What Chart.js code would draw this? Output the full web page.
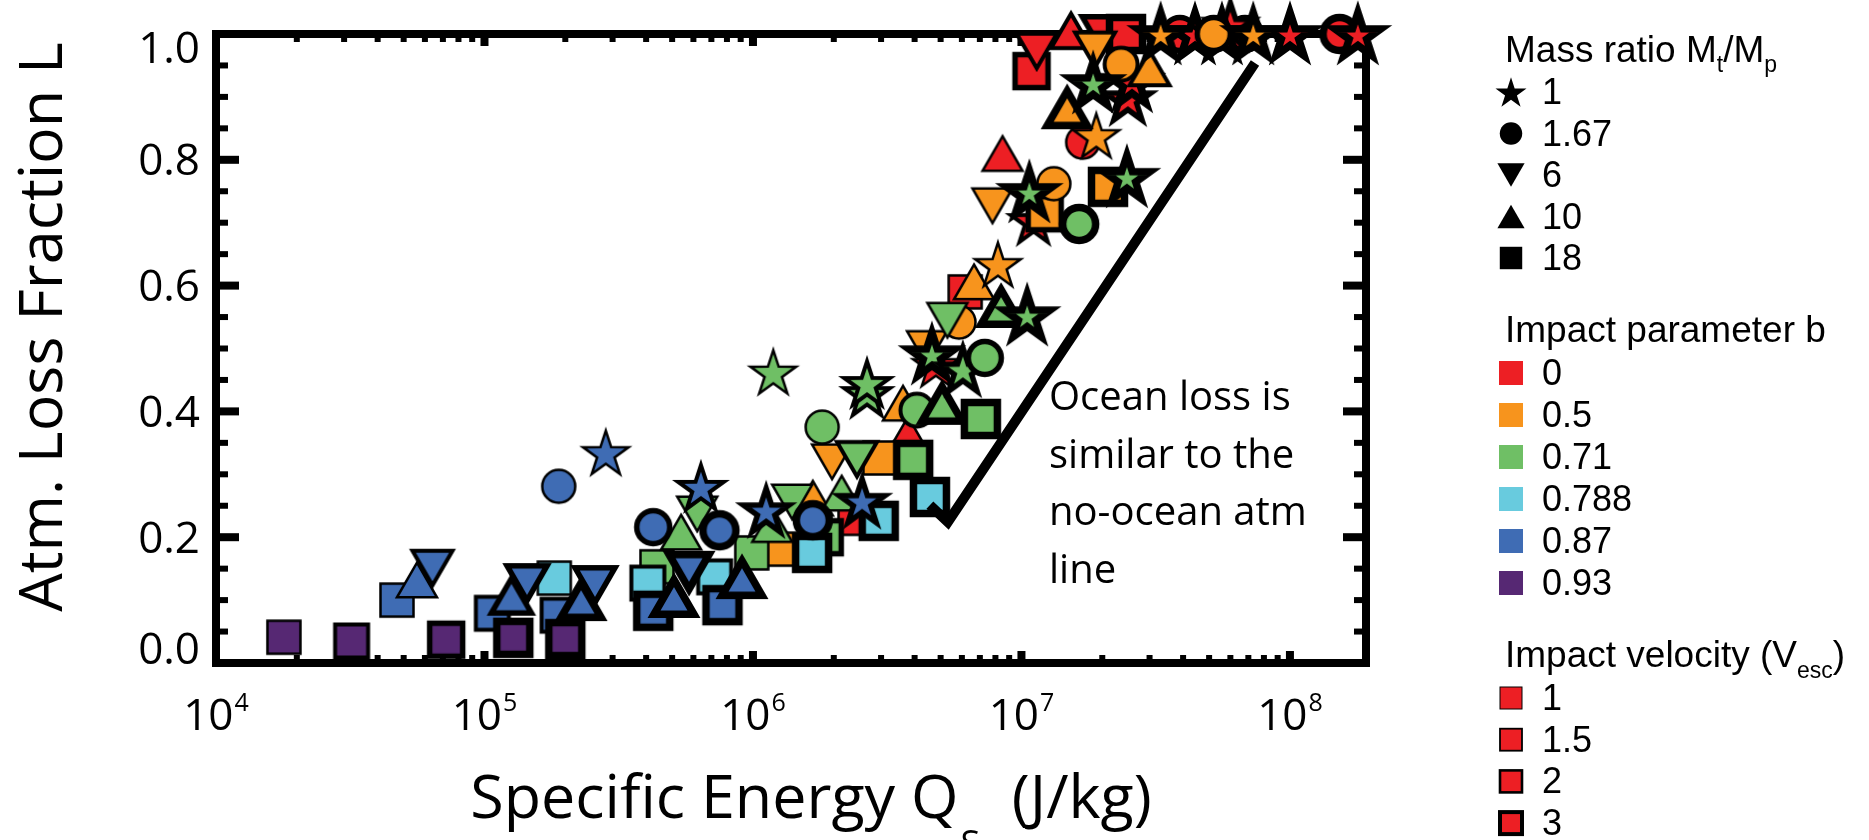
<!DOCTYPE html>
<html>
<head>
<meta charset="utf-8">
<script src="https://cdn.jsdelivr.net/npm/chart.js@4.4.1/dist/chart.umd.min.js"></script>
<style>
  html, body { margin: 0; padding: 0; background: #fff; }
  #wrap { width: 1869px; height: 840px; }
</style>
</head>
<body>
<div id="wrap"><canvas id="chart"></canvas></div>
<script>
// axis ranges and tick labels
const xMin = 1e4, xMax = 1.92e8;
const xTicks = [1e4, 1e5, 1e6, 1e7, 1e8];
const xTickExps = ['4', '5', '6', '7', '8'];
const yTicks = [0, 0.2, 0.4, 0.6, 0.8, 1.0];
const yTickLabels = ['0.0', '0.2', '0.4', '0.6', '0.8', '1.0'];

// legend categories
const massRatios = ['1', '1.67', '6', '10', '18'];
const impactB = ['0', '0.5', '0.71', '0.788', '0.87', '0.93'];
const bColors = ['#ED1F24', '#F7941D', '#6FBF65', '#68CBDE', '#3F6CB4', '#562873'];
const velocities = ['1', '1.5', '2', '3'];

// points: [Q_S (J/kg), loss fraction L, Mt/Mp, impact velocity (Vesc)]
const bZero = [
  [2.4e6, 0.23, 18, 1], [4.8e6, 0.475, 1, 1], [3.78e6, 0.364, 10, 1],
  [6.17e6, 0.590, 18, 1], [8.5e6, 0.81, 10, 1], [1.11e7, 0.704, 1, 1.5],
  [1.69e7, 0.828, 1.67, 1], [2.49e7, 0.898, 1, 2], [2.58e7, 0.924, 1, 3],
  [1.09e7, 0.941, 18, 2], [1.14e7, 0.973, 6, 1.5], [1.53e7, 1.005, 10, 1.5],
  [2.0e7, 1.0, 6, 2], [2.45e7, 1.0, 18, 3], [3.89e7, 1.0, 1.67, 2],
  [6.8e7, 1.0, 1.67, 2], [6.0e7, 1.015, 1, 2], [4.43e7, 1.0, 1, 3],
  [5.58e7, 1.0, 1, 3], [1.0e8, 1.0, 1, 3], [1.53e8, 1.0, 1.67, 3],
  [1.79e8, 1.0, 1, 3]
];
const bHalf = [
  [1.27e6, 0.181, 18, 1], [1.67e6, 0.262, 10, 1], [2.97e6, 0.326, 18, 1],
  [1.97e6, 0.320, 6, 1], [3.62e6, 0.413, 10, 1], [4.45e6, 0.50, 6, 1],
  [5.85e6, 0.542, 1.67, 1], [6.66e6, 0.606, 10, 1], [8.17e6, 0.634, 1, 1],
  [1.22e7, 0.715, 18, 2], [7.8e6, 0.727, 6, 1], [1.32e7, 0.762, 1.67, 1],
  [2.1e7, 0.757, 18, 3], [1.9e7, 0.839, 1, 1], [1.48e7, 0.882, 10, 3],
  [3.0e7, 0.946, 10, 1.5], [2.35e7, 0.952, 1.67, 1.5], [1.88e7, 0.975, 6, 1.5],
  [5.2e7, 1.0, 1.67, 2], [3.3e7, 1.0, 1, 3], [7.3e7, 1.0, 1, 3]
];
const b071 = [
  [4.39e5, 0.153, 18, 1], [5.4e5, 0.208, 10, 1], [6.2e5, 0.237, 6, 1],
  [9.9e5, 0.175, 18, 1], [1.18e6, 0.22, 10, 1], [1.40e6, 0.256, 6, 1],
  [1.85e6, 0.2, 18, 2], [2.14e6, 0.27, 10, 1], [2.44e6, 0.324, 6, 1.5],
  [1.81e6, 0.375, 1.67, 1], [1.19e6, 0.463, 1, 1], [2.66e6, 0.429, 1, 1.5],
  [2.66e6, 0.445, 1, 1.5], [4.08e6, 0.402, 1.67, 1.5], [5.06e6, 0.412, 10, 3],
  [3.95e6, 0.323, 18, 3], [7.06e6, 0.388, 18, 3], [5.3e6, 0.545, 6, 1],
  [4.64e6, 0.491, 1, 3], [6.05e6, 0.467, 1, 2], [7.3e6, 0.485, 1.67, 2],
  [8.4e6, 0.566, 10, 3], [1.05e7, 0.553, 1, 3], [1.64e7, 0.698, 1.67, 3],
  [1.07e7, 0.749, 1, 3], [2.47e7, 0.773, 1, 3], [1.85e7, 0.922, 1, 3]
];
const b0788 = [
  [1.82e5, 0.135, 18, 1], [4.06e5, 0.127, 18, 1.5], [7.2e5, 0.137, 18, 1.5],
  [1.66e6, 0.175, 18, 3], [2.94e6, 0.226, 18, 3], [4.56e6, 0.264, 18, 3]
];
const b087 = [
  [4.72e4, 0.10, 18, 1], [1.07e5, 0.079, 18, 1.5], [1.88e5, 0.076, 18, 1.5],
  [4.25e5, 0.083, 18, 3], [7.7e5, 0.092, 18, 3],
  [6.4e4, 0.151, 6, 1.5], [1.44e5, 0.127, 6, 2], [2.58e5, 0.124, 6, 2], [5.78e5, 0.145, 6, 3],
  [5.6e4, 0.132, 10, 1], [1.26e5, 0.107, 10, 2], [2.29e5, 0.10, 10, 3],
  [5.08e5, 0.105, 10, 3], [9.1e5, 0.135, 10, 3],
  [1.89e5, 0.281, 1.67, 1], [4.25e5, 0.216, 1.67, 2], [7.5e5, 0.211, 1.67, 3], [1.67e6, 0.227, 1.67, 3],
  [2.83e5, 0.335, 1, 1], [6.4e5, 0.280, 1, 1.5], [1.12e6, 0.243, 1, 2], [2.55e6, 0.258, 1, 2]
];
const b093 = [
  [1.79e4, 0.041, 18, 1], [3.2e4, 0.035, 18, 1.5], [7.2e4, 0.037, 18, 2],
  [1.28e5, 0.040, 18, 3], [2.0e5, 0.038, 18, 3]
];

// no-ocean atmosphere line
const lineQ = [4.56e6, 5.32e6, 7.41e7];
const lineL = [0.251, 0.224, 0.954];

const shapeByRatio = { '1': 'star', '1.67': 'circle', '6': 'down', '10': 'up', '18': 'square' };
const lwByVel = { '1': 2.5, '1.5': 4, '2': 5.5, '3': 7.5 };

const AXIS_FONT = '"Open Sans", "DejaVu Sans", sans-serif';
const LEG_FONT = '"Liberation Sans", Arial, sans-serif';

function shapePath(g, shape, k) {
  g.beginPath();
  if (shape === 'square') {
    const s = 33 * k;
    g.rect(-s / 2, -s / 2, s, s);
  } else if (shape === 'circle') {
    g.arc(0, 0, 16.5 * k, 0, Math.PI * 2);
  } else if (shape === 'up' || shape === 'down') {
    const a = 40 * k, h = a * Math.sqrt(3) / 2, d = shape === 'up' ? 1 : -1;
    g.moveTo(0, -d * h / 2);
    g.lineTo(a / 2, d * h / 2);
    g.lineTo(-a / 2, d * h / 2);
    g.closePath();
  } else {
    const R = 24 * k, r = R * 0.382, dy = R * 0.0955;
    for (let i = 0; i < 10; i++) {
      const rad = i % 2 ? r : R;
      const ang = -Math.PI / 2 + i * Math.PI / 5;
      const px = rad * Math.cos(ang), py = rad * Math.sin(ang) + dy;
      if (i === 0) g.moveTo(px, py); else g.lineTo(px, py);
    }
    g.closePath();
  }
}

const cache = {};
function marker(shape, color, lw) {
  const key = shape + color + lw;
  if (cache[key]) return cache[key];
  const c = document.createElement('canvas');
  const size = Math.ceil(2 * (26 + lw * 2 + 4));
  c.width = c.height = size;
  const g = c.getContext('2d');
  g.translate(size / 2, size / 2);
  shapePath(g, shape, 1);
  g.fillStyle = color;
  g.fill();
  g.lineWidth = lw;
  g.lineJoin = 'miter';
  g.strokeStyle = '#000';
  g.stroke();
  cache[key] = c;
  return c;
}

const series = [
  { pts: b093, color: bColors[5], order: 1 },
  { pts: b087, color: bColors[4], order: 2 },
  { pts: b0788, color: bColors[3], order: 3 },
  { pts: b071, color: bColors[2], order: 4 },
  { pts: bHalf, color: bColors[1], order: 5 },
  { pts: bZero, color: bColors[0], order: 6 }
];

const datasets = series.map(s => ({
  type: 'scatter',
  data: s.pts.map(p => ({ x: p[0], y: p[1] })),
  pointStyle: s.pts.map(p => marker(shapeByRatio[p[2]], s.color, lwByVel[p[3]])),
  pointRadius: 20,
  clip: false,
  order: s.order
}));
datasets.push({
  type: 'line',
  data: lineQ.map((q, i) => ({ x: q, y: lineL[i] })),
  borderColor: '#000',
  borderWidth: 10,
  borderCapStyle: 'butt',
  borderJoinStyle: 'miter',
  pointRadius: 0,
  fill: false,
  order: 0
});

function rich(ctx, parts, x, y, family, draw) {
  let cx = x;
  for (const p of parts) {
    ctx.font = p.size + 'px ' + family;
    if (draw) ctx.fillText(p.t, cx, y + (p.dy || 0));
    cx += ctx.measureText(p.t).width + (p.gap || 0);
  }
  return cx - x;
}

const frame = {
  id: 'frame',
  beforeDatasetsDraw(chart) {
    const { ctx, chartArea: a } = chart;
    const x = chart.scales.x, y = chart.scales.y;
    ctx.save();
    ctx.fillStyle = '#000';
    for (let i = 1; i < 20; i++) {
      const py = y.getPixelForValue(i * 0.05);
      const major = i % 4 === 0;
      const len = major ? 23 : 12, th = major ? 8 : 6;
      ctx.fillRect(a.left, py - th / 2, len, th);
      ctx.fillRect(a.right - len, py - th / 2, len, th);
    }
    for (let d = 4; d <= 8; d++) {
      for (let k = 1; k <= 9; k++) {
        const v = k * Math.pow(10, d);
        if (v <= xMin || v >= xMax) continue;
        const px = x.getPixelForValue(v);
        const major = k === 1;
        const len = major ? 12 : 8, th = major ? 8 : 6;
        ctx.fillRect(px - th / 2, a.bottom - len, th, len);
        ctx.fillRect(px - th / 2, a.top, th, len);
      }
    }
    ctx.lineWidth = 8;
    ctx.strokeStyle = '#000';
    ctx.strokeRect(a.left, a.top, a.right - a.left, a.bottom - a.top);
    ctx.restore();
  },
  afterDraw(chart) {
    const { ctx } = chart;
    const x = chart.scales.x, y = chart.scales.y;
    ctx.save();
    ctx.fillStyle = '#000';
    ctx.textBaseline = 'alphabetic';

    // y tick labels
    ctx.font = '44px ' + AXIS_FONT;
    ctx.textAlign = 'right';
    yTicks.forEach((v, i) => {
      let py = y.getPixelForValue(v);
      if (i === 0) py -= 15;
      if (i === yTicks.length - 1) py += 13;
      ctx.fillText(yTickLabels[i], 200, py + 15.5);
    });

    // x tick labels with exponents
    ctx.textAlign = 'left';
    xTicks.forEach((v, i) => {
      const parts = [{ t: '10', size: 44, gap: 1 }, { t: xTickExps[i], size: 25, dy: -19 }];
      const w = rich(ctx, parts, 0, 0, AXIS_FONT, false);
      rich(ctx, parts, x.getPixelForValue(v) - w / 2, 730, AXIS_FONT, true);
    });

    // x title
    const xt = [
      { t: 'Specific Energy Q', size: 61, gap: 2 },
      { t: 'S', size: 36, dy: 38 },
      { t: '  (J/kg)', size: 61 }
    ];
    const xw = rich(ctx, xt, 0, 0, AXIS_FONT, false);
    rich(ctx, xt, 811 - xw / 2, 818, AXIS_FONT, true);

    // y title
    ctx.save();
    ctx.translate(62, 327);
    ctx.rotate(-Math.PI / 2);
    ctx.textAlign = 'center';
    ctx.font = '61px ' + AXIS_FONT;
    ctx.fillText('Atm. Loss Fraction L', 0, 0);
    ctx.restore();

    // annotation
    ctx.textAlign = 'left';
    ctx.font = '40px ' + AXIS_FONT;
    ['Ocean loss is', 'similar to the', 'no-ocean atm', 'line'].forEach((t, i) => {
      ctx.fillText(t, 1049, 410 + i * 57.5);
    });

    // legend
    const mx = 1511, tx = 1542, titleX = 1505;
    rich(ctx, [
      { t: 'Mass ratio M', size: 37 }, { t: 't', size: 23, dy: 10 },
      { t: '/M', size: 37 }, { t: 'p', size: 23, dy: 10 }
    ], titleX, 62, LEG_FONT, true);
    const shapes = ['star', 'circle', 'down', 'up', 'square'];
    massRatios.forEach((m, i) => {
      const cy = 92 + i * 41.5;
      ctx.save();
      ctx.translate(mx, cy);
      shapePath(ctx, shapes[i], 0.68);
      ctx.fillStyle = '#000';
      ctx.fill();
      ctx.restore();
      ctx.font = '36px ' + LEG_FONT;
      ctx.fillText(m, tx, cy + 12);
    });

    rich(ctx, [{ t: 'Impact parameter b', size: 37 }], titleX, 342, LEG_FONT, true);
    impactB.forEach((b, i) => {
      const cy = 373 + i * 42;
      ctx.fillStyle = bColors[i];
      ctx.fillRect(mx - 12, cy - 12, 24, 24);
      ctx.fillStyle = '#000';
      ctx.font = '36px ' + LEG_FONT;
      ctx.fillText(b, tx, cy + 12);
    });

    rich(ctx, [
      { t: 'Impact velocity (V', size: 37 }, { t: 'esc', size: 23, dy: 11 }, { t: ')', size: 37 }
    ], titleX, 667, LEG_FONT, true);
    const legLw = [1, 1.8, 2.6, 4];
    velocities.forEach((v, i) => {
      const cy = 698 + i * 41.7;
      ctx.fillStyle = bColors[0];
      ctx.fillRect(mx - 11, cy - 11, 22, 22);
      ctx.lineWidth = legLw[i];
      ctx.strokeStyle = '#000';
      ctx.strokeRect(mx - 11, cy - 11, 22, 22);
      ctx.fillStyle = '#000';
      ctx.font = '36px ' + LEG_FONT;
      ctx.fillText(v, tx, cy + 12);
    });
    ctx.restore();
  }
};

new Chart(document.getElementById('chart'), {
  data: { datasets },
  options: {
    responsive: true,
    maintainAspectRatio: false,
    animation: false,
    events: [],
    layout: { padding: { left: 216, top: 34, right: 1869 - 1366, bottom: 840 - 663 } },
    scales: {
      x: { type: 'logarithmic', min: xMin, max: xMax, display: false },
      y: { type: 'linear', min: 0, max: 1, display: false }
    },
    plugins: { legend: { display: false }, tooltip: { enabled: false } }
  },
  plugins: [frame]
});
</script>
</body>
</html>
